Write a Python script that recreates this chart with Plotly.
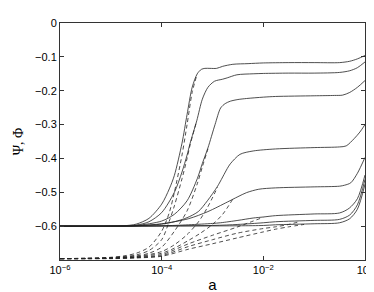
import numpy as np
import plotly.graph_objects as go

# log10(a) positions and values, solid curves (Psi)
psi_x = [
    [-6, -5, -4.75, -4.5, -4.25, -4.0, -3.85, -3.75, -3.6, -3.5, -3.4, -3.3, -3.22, -3.15, -3.05, -2.92, -2.8, -2.6, -2.3, -2, -1.5, -1, -0.5, -0.3, -0.15, 0],
    [-6, -5, -4.5, -4.25, -4, -3.75, -3.6, -3.5, -3.44, -3.31, -3.2, -3.09, -2.96, -2.8, -2.71, -2.52, -2.2, -2, -1.5, -1, -0.5, -0.3, -0.15, 0],
    [-6, -5, -4.5, -4, -3.75, -3.5, -3.3, -3.2, -3.09, -2.95, -2.84, -2.75, -2.65, -2.5, -2.33, -2, -1.76, -1, -0.6, -0.44, -0.3, -0.15, 0],
    [-6, -5, -4.5, -4, -3.75, -3.5, -3.28, -3.1, -2.9, -2.71, -2.65, -2.46, -2.2, -1.76, -1, -0.5, -0.37, -0.21, -0.1, 0],
    [-6, -5, -4.5, -4, -3.47, -3.09, -2.71, -2.5, -2.33, -2.09, -1.76, -1, -0.5, -0.4, -0.28, -0.15, 0],
    [-6, -4, -3.47, -3, -2.84, -2.5, -2.2, -2, -1.76, -1, -0.5, -0.31, -0.15, 0],
    [-6, -3, -2.5, -2, -1.76, -1, -0.5, -0.3, -0.15, 0],
    [-6, -2.5, -2, -1.76, -1, -0.5, -0.3, -0.15, 0],
]
psi_y = [
    [-0.6, -0.6, -0.599, -0.594, -0.577, -0.535, -0.49, -0.45, -0.355, -0.27, -0.19, -0.15, -0.137, -0.134, -0.134, -0.134, -0.128, -0.122, -0.12, -0.118, -0.117, -0.117, -0.117, -0.113, -0.106, -0.096],
    [-0.6, -0.6, -0.597, -0.587, -0.56, -0.5, -0.44, -0.39, -0.355, -0.289, -0.225, -0.19, -0.172, -0.166, -0.162, -0.153, -0.15, -0.149, -0.148, -0.148, -0.146, -0.141, -0.132, -0.115],
    [-0.6, -0.6, -0.598, -0.585, -0.565, -0.525, -0.46, -0.415, -0.369, -0.3, -0.251, -0.238, -0.231, -0.226, -0.223, -0.219, -0.217, -0.215, -0.214, -0.213, -0.205, -0.19, -0.17],
    [-0.6, -0.6, -0.599, -0.594, -0.587, -0.575, -0.557, -0.525, -0.482, -0.43, -0.416, -0.388, -0.378, -0.372, -0.368, -0.366, -0.363, -0.341, -0.322, -0.30],
    [-0.6, -0.6, -0.599, -0.593, -0.578, -0.557, -0.529, -0.513, -0.501, -0.491, -0.487, -0.484, -0.482, -0.479, -0.472, -0.444, -0.397],
    [-0.6, -0.599, -0.596, -0.592, -0.59, -0.583, -0.576, -0.573, -0.569, -0.564, -0.561, -0.547, -0.519, -0.449],
    [-0.6, -0.598, -0.595, -0.59, -0.587, -0.583, -0.58, -0.567, -0.537, -0.462],
    [-0.6, -0.599, -0.598, -0.596, -0.593, -0.59, -0.578, -0.55, -0.476],
]

# dashed curves (Phi), up to where they join the solid curves
phi_x = [
    [-6, -5.5, -5, -4.75, -4.5, -4.25, -4.0, -3.85, -3.75, -3.6, -3.5, -3.4, -3.3],
    [-6, -5.5, -5, -4.5, -4.25, -4, -3.85, -3.75, -3.6, -3.5, -3.44, -3.31],
    [-6, -5.5, -5, -4.5, -4.25, -4, -3.75, -3.5, -3.3, -3.2, -3.09],
    [-6, -5.5, -5, -4.5, -4, -3.75, -3.5, -3.28, -3.1, -2.9],
    [-6, -5, -4.5, -4, -3.75, -3.47, -3.25, -3, -2.8, -2.6],
    [-6, -5, -4.5, -4, -3.47, -3, -2.52, -2.2, -2.0],
    [-6, -5, -4.5, -4, -3.47, -3, -2.52, -2, -1.76, -1.5, -1.3],
    [-6, -5, -4.5, -4, -3.47, -3, -2.52, -2, -1.76, -1.5, -1.2],
]
phi_y = [
    [-0.696, -0.695, -0.692, -0.688, -0.68, -0.662, -0.615, -0.56, -0.5, -0.39, -0.3, -0.205, -0.15],
    [-0.696, -0.695, -0.693, -0.685, -0.672, -0.64, -0.585, -0.54, -0.46, -0.4, -0.36, -0.289],
    [-0.696, -0.695, -0.694, -0.688, -0.68, -0.662, -0.615, -0.555, -0.475, -0.425, -0.372],
    [-0.696, -0.696, -0.694, -0.69, -0.675, -0.655, -0.625, -0.588, -0.545, -0.485],
    [-0.696, -0.695, -0.691, -0.68, -0.665, -0.642, -0.622, -0.595, -0.565, -0.52],
    [-0.696, -0.695, -0.692, -0.684, -0.652, -0.627, -0.603, -0.585, -0.574],
    [-0.696, -0.695, -0.693, -0.687, -0.66, -0.64, -0.621, -0.607, -0.602, -0.595, -0.587],
    [-0.696, -0.696, -0.694, -0.689, -0.668, -0.652, -0.635, -0.617, -0.609, -0.602, -0.595],
]

x_tickvals = [1e-6, 1e-4, 1e-2, 1]
x_ticktext = ["10<sup>−6</sup>", "10<sup>−4</sup>", "10<sup>−2</sup>", "10<sup>0</sup>"]
y_tickvals = [-0.6, -0.5, -0.4, -0.3, -0.2, -0.1, 0]
y_ticktext = ["−0.6", "−0.5", "−0.4", "−0.3", "−0.2", "−0.1", "0"]

fig = go.Figure()
for xs, ys in zip(phi_x, phi_y):
    fig.add_trace(go.Scatter(x=10 ** np.array(xs, dtype=float), y=ys, mode="lines",
                             line=dict(color="#222", width=0.8, dash="4px,3px", shape="spline", smoothing=0.8),
                             showlegend=False, hoverinfo="skip"))
for xs, ys in zip(psi_x, psi_y):
    fig.add_trace(go.Scatter(x=10 ** np.array(xs, dtype=float), y=ys, mode="lines",
                             line=dict(color="#222", width=0.8, shape="spline", smoothing=0.8),
                             showlegend=False, hoverinfo="skip"))

axis_font = dict(family="Liberation Sans, Arial, sans-serif", size=11, color="#000")
fig.update_layout(
    width=374, height=292,
    margin=dict(l=47, r=11, t=9, b=34),
    paper_bgcolor="white", plot_bgcolor="white",
    font=axis_font,
    xaxis=dict(type="log", range=[-6, 0], tickvals=x_tickvals, ticktext=x_ticktext,
               ticks="inside", ticklen=4, tickcolor="#333", showline=True, linecolor="#333",
               linewidth=1, mirror="ticks", showgrid=False, zeroline=False,
               title=dict(text="a", font=dict(family="Liberation Sans, Arial, sans-serif", size=15), standoff=4)),
    yaxis=dict(range=[-0.7, 0], tickvals=y_tickvals, ticktext=y_ticktext,
               ticks="inside", ticklen=4, tickcolor="#333", showline=True, linecolor="#333",
               linewidth=1, mirror="ticks", showgrid=False, zeroline=False,
               title=dict(text="Ψ, Φ", font=dict(family="Liberation Serif, serif", size=14), standoff=8)),
)
fig.write_html("out.html")
